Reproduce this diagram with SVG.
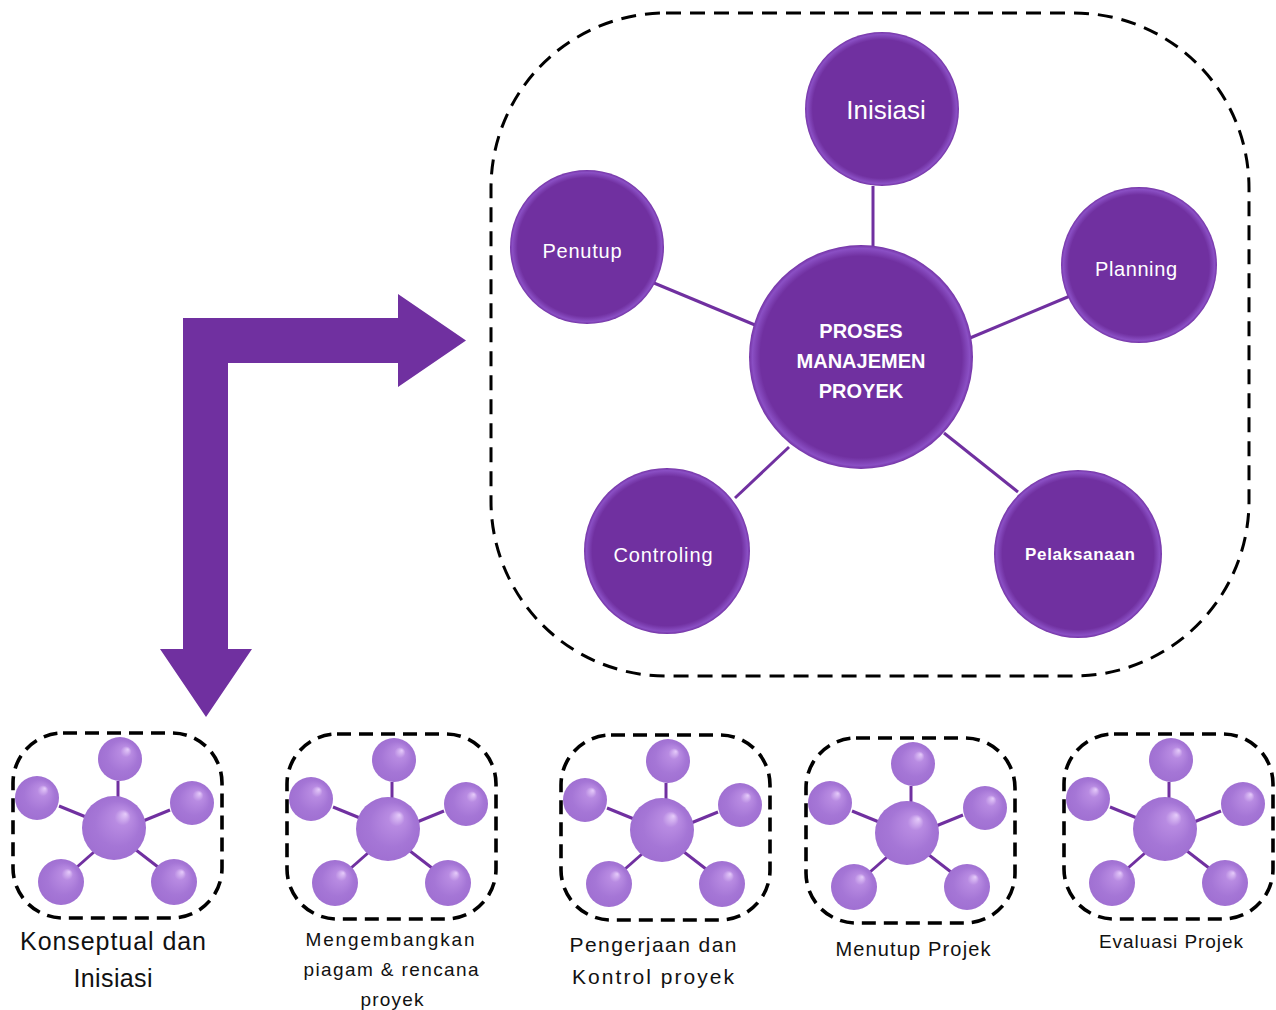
<svg xmlns="http://www.w3.org/2000/svg" width="1276" height="1010" viewBox="0 0 1276 1010">
<style>
.big{fill:url(#gBig)}
.t{font-family:"Liberation Sans",Arial,sans-serif;fill:#fff;text-anchor:middle}
.lbl{font-family:"Liberation Sans",Arial,sans-serif;fill:#111;text-anchor:middle}
.ln{stroke:#7030A0;stroke-width:3;fill:none}
.dash{fill:none;stroke:#000;stroke-width:3;stroke-dasharray:15 9}
.dash2{fill:none;stroke:#000;stroke-width:3.6;stroke-dasharray:14 8}
.sp{fill:url(#gSp)}
</style>
<defs>
<radialGradient id="gBig" cx="50%" cy="50%" r="50%">
<stop offset="0" stop-color="#7030A0"/>
<stop offset="0.9" stop-color="#7030A0"/>
<stop offset="0.97" stop-color="#8A4FC4"/>
<stop offset="1" stop-color="#7434A6"/>
</radialGradient>
<radialGradient id="gSp" cx="50%" cy="50%" r="50%" fx="68%" fy="28%">
<stop offset="0" stop-color="#E6CCFA"/>
<stop offset="0.25" stop-color="#B88BE2"/>
<stop offset="0.7" stop-color="#A576D6"/>
<stop offset="1" stop-color="#A070D2"/>
</radialGradient>
<symbol id="cluster" overflow="visible">
<rect class="dash2" x="-101" y="-95" width="209" height="185" rx="50"/>
<g class="ln">
<line x1="4" y1="-47" x2="4" y2="-30"/>
<line x1="-55" y1="-22" x2="-28" y2="-11"/>
<line x1="56" y1="-18" x2="29" y2="-7"/>
<line x1="-37" y1="39" x2="-20" y2="24"/>
<line x1="44" y1="39" x2="22" y2="22"/>
</g>
<circle class="sp" cx="0" cy="0" r="32"/>
<circle class="sp" cx="6" cy="-69" r="22"/>
<circle class="sp" cx="-77" cy="-30" r="22"/>
<circle class="sp" cx="78" cy="-25" r="22"/>
<circle class="sp" cx="-53" cy="54" r="23"/>
<circle class="sp" cx="60" cy="54" r="23"/>
</symbol>
</defs>
<rect width="1276" height="1010" fill="#fff"/>

<g id="big-frame">
<rect class="dash" x="491" y="13" width="758" height="663" rx="175"/>
</g>

<g id="connectors">
<path id="bent-arrow" fill="#7030A0" d="M183,318 L398,318 L398,294 L466,340.5 L398,387 L398,363 L228,363 L228,649 L252,649 L206,717 L160,649 L183,649 Z"/>
<g class="ln">
<line x1="873" y1="186" x2="873" y2="246"/>
<line x1="654" y1="283" x2="755" y2="325"/>
<line x1="1070" y1="296" x2="970" y2="338"/>
<line x1="735" y1="498" x2="789" y2="447"/>
<line x1="944" y1="433" x2="1018" y2="492"/>
</g>
</g>

<g id="node-proses">
<circle class="big" cx="861" cy="357" r="112"/>
<text class="t" x="861" y="338" font-size="20" font-weight="bold">PROSES</text>
<text class="t" x="861" y="368" font-size="20" font-weight="bold">MANAJEMEN</text>
<text class="t" x="861" y="398" font-size="20" font-weight="bold">PROYEK</text>
</g>
<g id="node-inisiasi">
<circle class="big" cx="882" cy="109" r="77"/>
<text class="t" x="886" y="119" font-size="26">Inisiasi</text>
</g>
<g id="node-penutup">
<circle class="big" cx="587" cy="247" r="77"/>
<text class="t" x="582" y="258" font-size="20" textLength="79">Penutup</text>
</g>
<g id="node-planning">
<circle class="big" cx="1139" cy="265" r="78"/>
<text class="t" x="1136" y="276" font-size="20" textLength="82">Planning</text>
</g>
<g id="node-controling">
<circle class="big" cx="667" cy="551" r="83"/>
<text class="t" x="663" y="562" font-size="20" textLength="99">Controling</text>
</g>
<g id="node-pelaksanaan">
<circle class="big" cx="1078" cy="554" r="84"/>
<text class="t" x="1080" y="560" font-size="17" font-weight="bold" textLength="110">Pelaksanaan</text>
</g>

<g id="stage-1">
<use href="#cluster" x="114" y="828"/>
<text class="lbl" x="113" y="950" font-size="25" textLength="186">Konseptual dan</text>
<text class="lbl" x="113" y="987" font-size="25" textLength="79">Inisiasi</text>
</g>
<g id="stage-2">
<use href="#cluster" x="388" y="829"/>
<text class="lbl" x="390" y="946" font-size="19" textLength="169">Mengembangkan</text>
<text class="lbl" x="391" y="976" font-size="19" textLength="175">piagam &amp; rencana</text>
<text class="lbl" x="392" y="1006" font-size="19" textLength="63">proyek</text>
</g>
<g id="stage-3">
<use href="#cluster" x="662" y="830"/>
<text class="lbl" x="653" y="952" font-size="21" textLength="167">Pengerjaan dan</text>
<text class="lbl" x="653" y="984" font-size="21" textLength="162">Kontrol proyek</text>
</g>
<g id="stage-4">
<use href="#cluster" x="907" y="833"/>
<text class="lbl" x="913" y="956" font-size="20" textLength="155">Menutup Projek</text>
</g>
<g id="stage-5">
<use href="#cluster" x="1165" y="829"/>
<text class="lbl" x="1171" y="948" font-size="19" textLength="144">Evaluasi Projek</text>
</g>
</svg>
